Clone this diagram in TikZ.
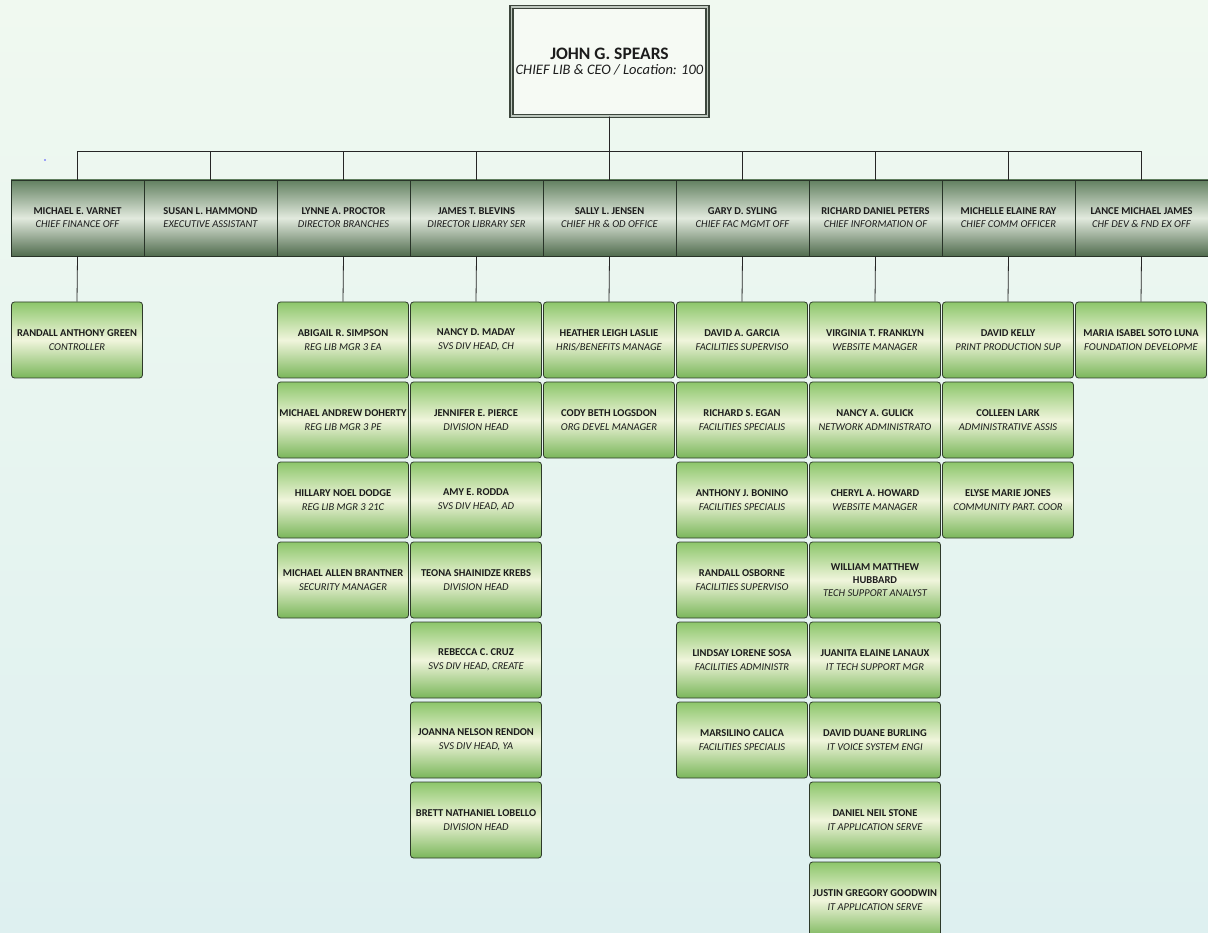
\documentclass[tikz,border=0pt]{standalone}
\usepackage{fontspec}
\setmainfont{Carlito}
\definecolor{bgtop}{RGB}{240,249,240}
\definecolor{bgbot}{RGB}{222,240,240}
\definecolor{hdtop}{RGB}{98,128,96}
\definecolor{hdmid}{RGB}{226,234,222}
\definecolor{hdbot}{RGB}{80,108,78}
\definecolor{hdline}{RGB}{40,52,40}
\definecolor{gtop}{RGB}{140,198,106}
\definecolor{gmid}{RGB}{240,245,220}
\definecolor{gbot}{RGB}{122,182,90}
\definecolor{gline}{RGB}{46,58,42}
\definecolor{ceoline}{RGB}{60,70,60}
\definecolor{ceogap}{RGB}{190,200,190}
\definecolor{ceofill}{RGB}{246,250,244}
\definecolor{txt}{RGB}{28,28,28}
\newcommand{\pname}[1]{{\bfseries #1}}
\newcommand{\ptitle}[1]{{\itshape #1}}
\tikzset{
  hdr/.style={draw=hdline, line width=0.9pt, top color=hdtop, bottom color=hdbot, middle color=hdmid,
    minimum width=133pt, minimum height=76pt, inner sep=0pt, align=center, text=txt,
    font=\fontsize{10.5}{13}\selectfont},
  gbox/.style={draw=gline, line width=0.8pt, rounded corners=3pt, top color=gtop, bottom color=gbot, middle color=gmid,
    minimum width=131pt, minimum height=76pt, inner sep=0pt, align=center, text=txt,
    font=\fontsize{10.5}{14}\selectfont},
  ceobox/.style={draw=ceoline, double=ceogap, line width=1.3pt, double distance=1.6pt, fill=ceofill,
    minimum width=196pt, minimum height=109pt, inner sep=0pt, align=center, text=txt},
  conn/.style={draw=black!85, line width=0.8pt}
}
\begin{document}
\begin{tikzpicture}[x=1pt,y=-1pt]
\useasboundingbox (0,0) rectangle (1208,933);
\shade[top color=bgtop, bottom color=bgbot] (0,0) rectangle (1208,933);
\clip (0,0) rectangle (1208,933);
\fill[blue!70] (45,160) circle (0.9pt);

\node[ceobox] (ceo) at (609.5,61.5) {{\fontsize{17.5}{20}\selectfont\bfseries JOHN G. SPEARS}\\[3pt]{\fontsize{14.5}{16}\selectfont\itshape CHIEF LIB \& CEO / Location: 100}};
\coordinate (bus) at (609.5,151);

% header row
\node[hdr] (h1) at (77.5,218) {\pname{MICHAEL E. VARNET}\\\ptitle{CHIEF FINANCE OFF}};
\node[hdr] (h2) at (210.5,218) {\pname{SUSAN L. HAMMOND}\\\ptitle{EXECUTIVE ASSISTANT}};
\node[hdr] (h3) at (343.5,218) {\pname{LYNNE A. PROCTOR}\\\ptitle{DIRECTOR BRANCHES}};
\node[hdr] (h4) at (476.5,218) {\pname{JAMES T. BLEVINS}\\\ptitle{DIRECTOR LIBRARY SER}};
\node[hdr] (h5) at (609.5,218) {\pname{SALLY L. JENSEN}\\\ptitle{CHIEF HR \& OD OFFICE}};
\node[hdr] (h6) at (742.5,218) {\pname{GARY D. SYLING}\\\ptitle{CHIEF FAC MGMT OFF}};
\node[hdr] (h7) at (875.5,218) {\pname{RICHARD DANIEL PETERS}\\\ptitle{CHIEF INFORMATION OF}};
\node[hdr] (h8) at (1008.5,218) {\pname{MICHELLE ELAINE RAY}\\\ptitle{CHIEF COMM OFFICER}};
\node[hdr] (h9) at (1141.5,218) {\pname{LANCE MICHAEL JAMES}\\\ptitle{CHF DEV \& FND EX OFF}};

\foreach \i in {1,...,9} \draw[conn] (ceo.south) |- (bus) -| (h\i.north);

% column 1
\node[gbox] (a1) at (77,340) {\pname{RANDALL ANTHONY GREEN}\\\ptitle{CONTROLLER}};
% column 3
\node[gbox] (c1) at (343,340) {\pname{ABIGAIL R. SIMPSON}\\\ptitle{REG LIB MGR 3 EA}};
\node[gbox] (c2) at (343,420) {\pname{MICHAEL ANDREW DOHERTY}\\\ptitle{REG LIB MGR 3 PE}};
\node[gbox] (c3) at (343,500) {\pname{HILLARY NOEL DODGE}\\\ptitle{REG LIB MGR 3 21C}};
\node[gbox] (c4) at (343,580) {\pname{MICHAEL ALLEN BRANTNER}\\\ptitle{SECURITY MANAGER}};
% column 4
\node[gbox] (d1) at (476,340) {\pname{NANCY D. MADAY}\\\ptitle{SVS DIV HEAD, CH}};
\node[gbox] (d2) at (476,420) {\pname{JENNIFER E. PIERCE}\\\ptitle{DIVISION HEAD}};
\node[gbox] (d3) at (476,500) {\pname{AMY E. RODDA}\\\ptitle{SVS DIV HEAD, AD}};
\node[gbox] (d4) at (476,580) {\pname{TEONA SHAINIDZE KREBS}\\\ptitle{DIVISION HEAD}};
\node[gbox] (d5) at (476,660) {\pname{REBECCA C. CRUZ}\\\ptitle{SVS DIV HEAD, CREATE}};
\node[gbox] (d6) at (476,740) {\pname{JOANNA NELSON RENDON}\\\ptitle{SVS DIV HEAD, YA}};
\node[gbox] (d7) at (476,820) {\pname{BRETT NATHANIEL LOBELLO}\\\ptitle{DIVISION HEAD}};
% column 5
\node[gbox] (e1) at (609,340) {\pname{HEATHER LEIGH LASLIE}\\\ptitle{HRIS/BENEFITS MANAGE}};
\node[gbox] (e2) at (609,420) {\pname{CODY BETH LOGSDON}\\\ptitle{ORG DEVEL MANAGER}};
% column 6
\node[gbox] (f1) at (742,340) {\pname{DAVID A. GARCIA}\\\ptitle{FACILITIES SUPERVISO}};
\node[gbox] (f2) at (742,420) {\pname{RICHARD S. EGAN}\\\ptitle{FACILITIES SPECIALIS}};
\node[gbox] (f3) at (742,500) {\pname{ANTHONY J. BONINO}\\\ptitle{FACILITIES SPECIALIS}};
\node[gbox] (f4) at (742,580) {\pname{RANDALL OSBORNE}\\\ptitle{FACILITIES SUPERVISO}};
\node[gbox] (f5) at (742,660) {\pname{LINDSAY LORENE SOSA}\\\ptitle{FACILITIES ADMINISTR}};
\node[gbox] (f6) at (742,740) {\pname{MARSILINO CALICA}\\\ptitle{FACILITIES SPECIALIS}};
% column 7
\node[gbox] (g1) at (875,340) {\pname{VIRGINIA T. FRANKLYN}\\\ptitle{WEBSITE MANAGER}};
\node[gbox] (g2) at (875,420) {\pname{NANCY A. GULICK}\\\ptitle{NETWORK ADMINISTRATO}};
\node[gbox] (g3) at (875,500) {\pname{CHERYL A. HOWARD}\\\ptitle{WEBSITE MANAGER}};
\node[gbox,font=\fontsize{10.5}{13}\selectfont] (g4) at (875,580) {\pname{WILLIAM MATTHEW}\\\pname{HUBBARD}\\\ptitle{TECH SUPPORT ANALYST}};
\node[gbox] (g5) at (875,660) {\pname{JUANITA ELAINE LANAUX}\\\ptitle{IT TECH SUPPORT MGR}};
\node[gbox] (g6) at (875,740) {\pname{DAVID DUANE BURLING}\\\ptitle{IT VOICE SYSTEM ENGI}};
\node[gbox] (g7) at (875,820) {\pname{DANIEL NEIL STONE}\\\ptitle{IT APPLICATION SERVE}};
\node[gbox] (g8) at (875,900) {\pname{JUSTIN GREGORY GOODWIN}\\\ptitle{IT APPLICATION SERVE}};
% column 8
\node[gbox] (k1) at (1008,340) {\pname{DAVID KELLY}\\\ptitle{PRINT PRODUCTION SUP}};
\node[gbox] (k2) at (1008,420) {\pname{COLLEEN LARK}\\\ptitle{ADMINISTRATIVE ASSIS}};
\node[gbox] (k3) at (1008,500) {\pname{ELYSE MARIE JONES}\\\ptitle{COMMUNITY PART. COOR}};
% column 9
\node[gbox] (m1) at (1141,340) {\pname{MARIA ISABEL SOTO LUNA}\\\ptitle{FOUNDATION DEVELOPME}};

% connectors from managers to first reports
\draw[conn] (h1.south) -- (a1.north);
\draw[conn] (h3.south) -- (c1.north);
\draw[conn] (h4.south) -- (d1.north);
\draw[conn] (h5.south) -- (e1.north);
\draw[conn] (h6.south) -- (f1.north);
\draw[conn] (h7.south) -- (g1.north);
\draw[conn] (h8.south) -- (k1.north);
\draw[conn] (h9.south) -- (m1.north);
\end{tikzpicture}
\end{document}
